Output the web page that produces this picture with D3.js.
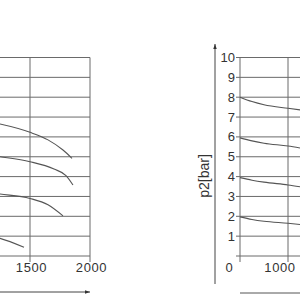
<!DOCTYPE html>
<html><head><meta charset="utf-8">
<script src="https://cdn.jsdelivr.net/npm/d3@7"></script>
<style>html,body{margin:0;padding:0;background:#fff;overflow:hidden}svg{display:block}</style>
</head><body>
<svg id="c" width="300" height="300"></svg>
<script>
// ---- data ----
const yTicks = [0,1,2,3,4,5,6,7,8,9,10];
const leftXTicks = [0,500,1000,1500,2000];
const rightXTicks = [0,1000,2000];
const yLabel = "p2[bar]";
// left chart curves (flow, p2)
const left8 = [[0,8],[250,7.7],[500,7.4],[750,7.12],[1000,6.9],[1250,6.65],[1500,6.23],[1650,5.85],[1775,5.34],[1850,4.92]];
const left6 = [[0,6],[250,5.8],[500,5.6],[750,5.4],[1000,5.2],[1250,5.0],[1500,4.75],[1700,4.38],[1800,4.05],[1858,3.58]];
const left4 = [[0,4],[500,3.62],[1000,3.32],[1250,3.12],[1500,2.9],[1650,2.58],[1775,2.02]];
const left2 = [[0,2],[500,1.6],[1000,1.15],[1250,0.89],[1450,0.44]];
// right chart curves
const right8 = [[0,8],[250,7.78],[500,7.62],[1000,7.44],[1250,7.36]];
const right6 = [[0,5.95],[250,5.8],[500,5.68],[1000,5.54],[1250,5.44]];
const right4 = [[0,3.95],[250,3.82],[500,3.72],[1000,3.58],[1250,3.49]];
const right2 = [[0,1.97],[250,1.84],[500,1.75],[1000,1.65],[1250,1.59]];

const svg = d3.select("#c");
const y = d3.scaleLinear().domain([0,10]).range([256,57.5]);
const xL = d3.scaleLinear().domain([0,2000]).range([-150,90]);
const xR = d3.scaleLinear().domain([0,2000]).range([240,336]);
const gridC = "#6a6a6a", curveC = "#555", textC = "#333";
const font = "'Liberation Sans', Arial, sans-serif";

svg.append("defs").append("marker").attr("id","arr").attr("viewBox","0 0 10 10")
  .attr("refX",10).attr("refY",5).attr("markerWidth",7).attr("markerHeight",5)
  .attr("orient","auto").append("path").attr("d","M0,1.5L10,5L0,8.5Z").attr("fill","#333");

function grid(x, xTicks, x0, x1, ext) {
  const g = svg.append("g");
  g.selectAll("line.h").data(yTicks).join("line")
    .attr("x1", x0 - ext).attr("x2", x1)
    .attr("y1", d=>y(d)).attr("y2", d=>y(d))
    .attr("stroke", gridC).attr("stroke-width", 1);
  g.selectAll("line.v").data(xTicks).join("line")
    .attr("x1", d=>x(d)).attr("x2", d=>x(d))
    .attr("y1", y(10)).attr("y2", y(0)+6)
    .attr("stroke", gridC).attr("stroke-width", 1);
}
grid(xL, leftXTicks, xL(0), xL(2000), 4);
grid(xR, rightXTicks, xR(0), 340, 4);

const line = (x) => d3.line().x(d=>x(d[0])).y(d=>y(d[1])).curve(d3.curveMonotoneX);
[left8,left6,left4,left2].forEach(s => svg.append("path").datum(s)
  .attr("d", line(xL)).attr("fill","none").attr("stroke",curveC).attr("stroke-width",1.1));
[right8,right6,right4,right2].forEach(s => svg.append("path").datum(s)
  .attr("d", line(xR)).attr("fill","none").attr("stroke",curveC).attr("stroke-width",1.1));

// x tick labels (only those inside the visible window)
svg.selectAll("text.xl").data(leftXTicks.filter(d=>xL(d)>15)).join("text")
  .attr("x", d=>xL(d)+1.5).attr("y", 272).attr("text-anchor","middle")
  .attr("font-family",font).attr("font-size",13).attr("letter-spacing",0.6)
  .attr("fill",textC).text(d=>d);
svg.selectAll("text.xr").data(rightXTicks.filter(d=>d>0 && xR(d)<300)).join("text")
  .attr("x", d=>xR(d)-8).attr("y", 272).attr("text-anchor","middle")
  .attr("font-family",font).attr("font-size",13).attr("letter-spacing",0.6)
  .attr("fill",textC).text(d=>d);
svg.append("text").attr("x",229).attr("y",272).attr("text-anchor","middle")
  .attr("font-family",font).attr("font-size",13).attr("fill",textC).text(rightXTicks[0]);
// y tick labels (right chart)
svg.selectAll("text.y").data(yTicks.filter(d=>d>0)).join("text")
  .attr("x", 235).attr("y", d=>y(d)+4.5).attr("text-anchor","end")
  .attr("font-family",font).attr("font-size",13).attr("fill",textC).text(d=>d);
// y label
svg.append("text").attr("transform","translate(209,176) rotate(-90)")
  .attr("text-anchor","middle").attr("font-family",font).attr("font-size",14)
  .attr("fill",textC).text(yLabel);

// arrows
svg.append("line").attr("x1",-10).attr("x2",xL(2000)).attr("y1",292).attr("y2",292)
  .attr("stroke","#444").attr("stroke-width",1).attr("marker-end","url(#arr)");
svg.append("line").attr("x1",215).attr("x2",215).attr("y1",284).attr("y2",44)
  .attr("stroke","#444").attr("stroke-width",1).attr("marker-end","url(#arr)");
svg.append("line").attr("x1",xR(0)).attr("x2",340).attr("y1",293).attr("y2",293)
  .attr("stroke","#555").attr("stroke-width",1);
</script>
</body></html>
